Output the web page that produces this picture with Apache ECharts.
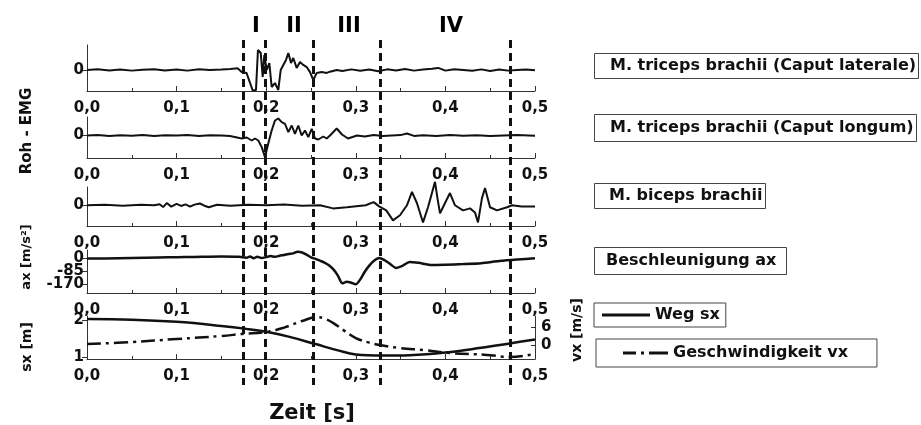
<!DOCTYPE html>
<html><head><meta charset="utf-8">
<script src="https://cdn.jsdelivr.net/npm/echarts@6/dist/echarts.min.js"></script>
<style>html,body{margin:0;padding:0;background:#fff}#c{width:921px;height:425px}</style>
</head><body><div id="c"></div>
<script>
// ---------- data ----------
const xTickLabels = ['0,0', '0,1', '0,2', '0,3', '0,4', '0,5'];
const emgTicks = [0];
const axTicks = [0, -85, -170];
const sxTicks = [1, 2];
const vxTicks = [0, 6];

const phaseBounds = [0.1745, 0.1994, 0.2526, 0.327, 0.472];
const phaseNames = ['I', 'II', 'III', 'IV'];
const phaseNameX = [0.1886, 0.231, 0.2924, 0.4063];

const boxLabels = ['M. triceps brachii (Caput laterale)', 'M. triceps brachii (Caput longum)', 'M. biceps brachii', 'Beschleunigung ax'];
const sxName = 'Weg sx';
const vxName = 'Geschwindigkeit vx';

// M. triceps brachii (Caput laterale), raw EMG
const latT = [0, 0.012, 0.025, 0.037, 0.05, 0.062, 0.075, 0.087, 0.1, 0.112, 0.125, 0.137, 0.15, 0.16, 0.168,
  0.1727, 0.178, 0.182, 0.185, 0.1886, 0.1908, 0.1939, 0.1961, 0.1979, 0.2006, 0.2035, 0.2061, 0.2098, 0.2135,
  0.2162, 0.2191, 0.2221, 0.2247, 0.2277, 0.2302, 0.234, 0.2377, 0.2414, 0.2452, 0.2489, 0.2526, 0.2564, 0.2619,
  0.2675, 0.2712, 0.2787, 0.285, 0.295, 0.305, 0.315, 0.325, 0.335, 0.345, 0.355, 0.365, 0.375, 0.385, 0.392,
  0.4, 0.41, 0.42, 0.43, 0.44, 0.45, 0.46, 0.47, 0.48, 0.49, 0.5];
const latV = [0, 0.03, -0.02, 0.02, -0.03, 0.01, 0.04, -0.02, 0.02, -0.03, 0.03, 0.0, 0.02, 0.05, 0.08,
  -0.1, -0.14, -0.62, -0.98, -0.95, 0.95, 0.81, -0.33, 0.71, 0.0, 0.33, -0.81, -0.62, -0.95,
  0.0, 0.24, 0.48, 0.81, 0.33, 0.57, 0.1, 0.38, 0.24, 0.14, -0.1, -0.48, -0.14, -0.1,
  -0.14, -0.08, 0.0, -0.05, 0.03, -0.04, 0.02, -0.06, 0.03, -0.02, 0.05, -0.03, 0.02, 0.06, 0.1,
  -0.03, 0.04, 0.0, -0.04, 0.03, -0.05, 0.02, -0.03, 0.0, 0.02, -0.01];

// M. triceps brachii (Caput longum), raw EMG
const lonT = [0, 0.012, 0.025, 0.037, 0.05, 0.062, 0.075, 0.087, 0.1, 0.112, 0.125, 0.137, 0.15, 0.1596,
  0.1727, 0.1782, 0.1838, 0.1875, 0.1912, 0.195, 0.1987, 0.2023, 0.2061, 0.2098, 0.2135, 0.2173, 0.221, 0.2247,
  0.2285, 0.2321, 0.2358, 0.2396, 0.2433, 0.247, 0.2508, 0.2545, 0.2581, 0.2637, 0.2675, 0.2712, 0.2787, 0.2846,
  0.2913, 0.3013, 0.31, 0.32, 0.33, 0.34, 0.35, 0.357, 0.365, 0.375, 0.39, 0.405, 0.42, 0.435, 0.45, 0.465, 0.48, 0.5];
const lonV = [0, 0.02, -0.02, 0.01, -0.01, 0.02, -0.02, 0.01, 0.0, 0.02, -0.02, 0.01, 0.0, -0.03,
  -0.15, -0.1, -0.25, -0.15, -0.25, -0.58, -1.08, -0.4, 0.25, 0.75, 0.85, 0.67, 0.58, 0.17,
  0.5, 0.08, 0.5, 0.0, 0.25, -0.08, 0.33, -0.15, -0.2, -0.05, -0.15, 0.0, 0.35, 0.05,
  -0.15, 0.0, -0.05, 0.02, -0.03, 0.0, 0.02, 0.1, -0.02, 0.01, -0.02, 0.02, -0.01, 0.01, -0.02, 0.0, 0.02, -0.01];

// M. biceps brachii, raw EMG
const bicT = [0, 0.02, 0.04, 0.06, 0.075, 0.081, 0.085, 0.089, 0.094, 0.1, 0.105, 0.11, 0.115, 0.12, 0.126,
  0.131, 0.136, 0.145, 0.16, 0.18, 0.2, 0.22, 0.24, 0.26, 0.2746, 0.29, 0.311, 0.32, 0.326, 0.334, 0.3415,
  0.3493, 0.3571, 0.3627, 0.3683, 0.375, 0.3806, 0.3884, 0.3912, 0.394, 0.4051, 0.4107, 0.4196, 0.4275, 0.433,
  0.4364, 0.4408, 0.4442, 0.4498, 0.4576, 0.4688, 0.4743, 0.485, 0.5];
const bicV = [0, 0.02, -0.02, 0.02, 0.0, 0.05, -0.08, 0.1, -0.06, 0.06, -0.03, 0.04, -0.06, 0.03, 0.08,
  -0.02, -0.09, 0.02, -0.02, 0.02, 0.0, 0.03, -0.02, 0.0, -0.14, -0.09, 0.0, 0.14, -0.05, -0.23, -0.68,
  -0.45, 0.0, 0.6, 0.09, -0.77, -0.09, 1.05, 0.3, -0.36, 0.55, 0.0, -0.23, -0.14, -0.32,
  -0.77, 0.32, 0.77, -0.09, -0.23, -0.09, 0.0, -0.05, -0.05];

// Beschleunigung ax [m/s^2]
const axT = [0, 0.02, 0.05, 0.08, 0.1, 0.12, 0.15, 0.17, 0.178, 0.182, 0.186, 0.19, 0.195, 0.2, 0.205, 0.21,
  0.215, 0.22, 0.225, 0.23, 0.235, 0.24, 0.245, 0.25, 0.255, 0.26, 0.265, 0.27, 0.275, 0.28, 0.285, 0.29,
  0.295, 0.3, 0.305, 0.31, 0.315, 0.32, 0.326, 0.332, 0.338, 0.345, 0.352, 0.36, 0.37, 0.385, 0.4, 0.42,
  0.44, 0.46, 0.48, 0.5];
const axV = [-4, -3, 0, 3, 5, 7, 10, 8, 2, 10, -2, 8, 0, 6, 12, 8,
  15, 20, 26, 30, 40, 36, 22, 4, -6, -18, -30, -48, -75, -115, -166, -155,
  -162, -172, -140, -90, -50, -20, 0, -14, -38, -65, -52, -26, -32, -46, -44, -40,
  -34, -20, -10, -2];

// Weg sx [m]
const sxT = [0, 0.05, 0.1, 0.15, 0.178, 0.2, 0.225, 0.255, 0.28, 0.3, 0.33, 0.36, 0.4, 0.44, 0.475, 0.5];
const sxV = [2.03, 2.01, 1.95, 1.84, 1.76, 1.68, 1.55, 1.35, 1.18, 1.07, 1.04, 1.05, 1.12, 1.25, 1.38, 1.47];

// Geschwindigkeit vx [m/s]
const vxT = [0, 0.05, 0.1, 0.15, 0.174, 0.2, 0.22, 0.24, 0.257, 0.265, 0.275, 0.287, 0.3, 0.315, 0.327,
  0.349, 0.377, 0.405, 0.446, 0.472, 0.5];
const vxV = [0.3, 1.0, 2.0, 3.0, 3.7, 4.3, 5.8, 8.0, 9.3, 8.8, 7.3, 4.8, 2.3, 0.8, 0.0,
  -1.0, -1.7, -2.7, -3.3, -4.0, -3.0];

// ---------- helpers ----------
const pair = (t, v) => t.map((x, i) => [x, v[i]]);
const FONT = 'DejaVu Sans';
const INK = '#111';
const AXC = '#333';

const panels = [
  {top: 45, height: 46},
  {top: 117, height: 41},
  {top: 187, height: 39},
  {top: 250, height: 43},
  {top: 316, height: 43}
];
const gridLeft = 87, gridRight = 386;

const grids = panels.map(p => ({left: gridLeft, right: gridRight, top: p.top, height: p.height}));
grids.push({left: gridLeft, right: gridRight, top: 10, height: 380}); // overlay for phase lines

const xAxes = panels.map((p, i) => ({
  type: 'value', gridIndex: i, min: 0, max: 0.5, interval: 0.1,
  axisLine: {show: true, onZero: false, lineStyle: {color: AXC, width: 1}},
  axisTick: {show: true, inside: true, length: 5, lineStyle: {color: AXC}},
  minorTick: {show: true, splitNumber: 2, length: 3, lineStyle: {color: AXC}},
  splitLine: {show: false},
  axisLabel: {
    margin: 10, color: INK, fontFamily: FONT, fontWeight: 'bold', fontSize: 15, hideOverlap: false,
    formatter: v => xTickLabels[Math.round(v * 10)]
  }
}));
xAxes.push({type: 'value', gridIndex: 5, min: 0, max: 0.5, show: false});

function yAx(grid, min, max, ticks, extra) {
  return Object.assign({
    type: 'value', gridIndex: grid, min: min, max: max, position: 'left', offset: 0,
    axisLine: {show: true, onZero: false, lineStyle: {color: AXC, width: 1}},
    axisTick: {show: true, inside: false, length: 5, customValues: ticks, lineStyle: {color: AXC}},
    splitLine: {show: false},
    axisLabel: {margin: 3, color: INK, fontFamily: FONT, fontWeight: 'bold', fontSize: 15,
      hideOverlap: false, customValues: ticks}
  }, extra || {});
}
const axMin = -229, axMax = 52;
const yAxes = [
  yAx(0, -1.0, 1.19, emgTicks),
  yAx(1, -1.125, 0.925, emgTicks),
  yAx(2, -0.93, 0.82, emgTicks),
  yAx(3, axMin, axMax, [axTicks[1]]),
  yAx(4, 0.946, 2.108, sxTicks),
  yAx(4, -4.67, 9.67, vxTicks, {
    position: 'right',
    axisTick: {show: true, inside: true, length: 4, customValues: vxTicks, lineStyle: {color: AXC}},
    axisLabel: {margin: 6, color: INK, fontFamily: FONT, fontWeight: 'bold', fontSize: 15,
      hideOverlap: false, customValues: vxTicks}
  }),
  {type: 'value', gridIndex: 5, min: 0, max: 380, inverse: true, show: false},
  // extra label carriers for the crowded ax ticks (one label each so none is dropped)
  yAx(3, axMin, axMax, [axTicks[0]], {axisLine: {show: false}}),
  yAx(3, axMin, axMax, [axTicks[2]], {axisLine: {show: false}})
];

function emgSeries(name, t, v, idx) {
  return {
    name: name, type: 'line', xAxisIndex: idx, yAxisIndex: idx, data: pair(t, v),
    symbol: 'none', clip: false, lineStyle: {color: INK, width: 2}, silent: true
  };
}

const series = [
  emgSeries(boxLabels[0], latT, latV, 0),
  emgSeries(boxLabels[1], lonT, lonV, 1),
  emgSeries(boxLabels[2], bicT, bicV, 2),
  {name: boxLabels[3], type: 'line', xAxisIndex: 3, yAxisIndex: 3, data: pair(axT, axV), symbol: 'none',
    clip: false, smooth: 0.25, lineStyle: {color: INK, width: 2.5}, silent: true},
  {name: sxName, type: 'line', xAxisIndex: 4, yAxisIndex: 4, data: pair(sxT, sxV), symbol: 'none',
    smooth: 0.4, clip: false, lineStyle: {color: INK, width: 2.5}, itemStyle: {color: INK}, silent: true},
  {name: vxName, type: 'line', xAxisIndex: 4, yAxisIndex: 5, data: pair(vxT, vxV), symbol: 'none',
    smooth: 0.4, clip: false, lineStyle: {color: INK, width: 2.5, type: [14, 5, 3, 5]}, itemStyle: {color: INK}, silent: true},
  {
    name: 'phases', type: 'scatter', xAxisIndex: 5, yAxisIndex: 6, symbolSize: 0, silent: true,
    itemStyle: {color: INK, opacity: 1},
    data: phaseNames.map((n, i) => [phaseNameX[i], 17, n]),
    label: {show: true, position: 'inside', formatter: p => p.data[2], color: '#000', opacity: 1,
      textBorderWidth: 0, fontFamily: FONT, fontWeight: 'bold', fontSize: 21},
    markLine: {
      silent: true, symbol: ['none', 'none'], animation: false,
      label: {show: false},
      lineStyle: {color: INK, width: 3, type: [8, 5], opacity: 1},
      data: phaseBounds.map(b => [{coord: [b, 30]}, {coord: [b, 375]}])
    }
  }
];

const boxStyle = {fontFamily: FONT, fontWeight: 'bold', fontSize: 16, color: INK};
const titles = [
  {text: boxLabels[0], left: 594, top: 53, padding: [5, 3, 5, 16]},
  {text: boxLabels[1], left: 594, top: 114, padding: [6, 3, 6, 16]},
  {text: boxLabels[2], left: 594, top: 183, padding: [5, 3, 5, 15]},
  {text: boxLabels[3], left: 594, top: 247, padding: [6, 10, 6, 12]}
].map(t => Object.assign(t, {borderColor: '#444', borderWidth: 1, textStyle: boxStyle}));

// legend sample icons: solid line / dash-dot line
const solidIcon = 'path://M0,0H48V3H0Z';
const dashDotIcon = 'path://M0,0H13V3H0Z M18,0H21V3H18Z M26,0H45V3H26Z';
const legends = [
  {data: [{name: sxName, icon: solidIcon}], left: 594, top: 303, padding: [4, 6, 4, 8], itemWidth: 48, itemHeight: 14},
  {data: [{name: vxName, icon: dashDotIcon}], left: 596, top: 339, padding: [6, 29, 6, 27], itemWidth: 45, itemHeight: 14}
].map(l => Object.assign(l, {
  orient: 'horizontal', selectedMode: false, borderColor: '#444', borderWidth: 1,
  itemStyle: {color: INK, borderWidth: 0}, lineStyle: {width: 0},
  textStyle: boxStyle
}));

const nameStyle = (size) => ({fill: INK, font: 'bold ' + size + 'px "' + FONT + '"', align: 'center', verticalAlign: 'middle'});
const graphics = [
  {type: 'text', x: 27, y: 131, rotation: Math.PI / 2, style: Object.assign({text: 'Roh - EMG'}, nameStyle(15))},
  {type: 'text', x: 27, y: 257, rotation: Math.PI / 2, style: Object.assign({text: 'ax [m/s²]'}, nameStyle(13))},
  {type: 'text', x: 27, y: 347, rotation: Math.PI / 2, style: Object.assign({text: 'sx [m]'}, nameStyle(14))},
  {type: 'text', x: 577, y: 330, rotation: Math.PI / 2, style: Object.assign({text: 'vx [m/s]'}, nameStyle(14))},
  {type: 'text', x: 312, y: 414, style: Object.assign({text: 'Zeit [s]'}, nameStyle(21))}
];

const chart = echarts.init(document.getElementById('c'), null, {renderer: 'canvas'});
chart.setOption({
  animation: false,
  backgroundColor: '#fff',
  title: titles,
  legend: legends,
  grid: grids,
  xAxis: xAxes,
  yAxis: yAxes,
  series: series,
  graphic: graphics
});
</script>
</body></html>
